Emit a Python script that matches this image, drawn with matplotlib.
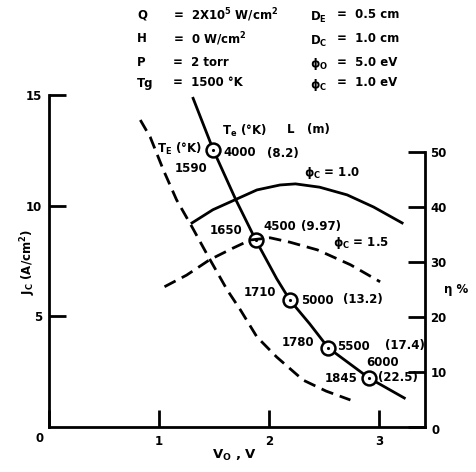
import matplotlib
matplotlib.use("Agg")
import matplotlib.pyplot as plt

plt.rcParams['font.family'] = ['DejaVu Sans']
plt.rcParams['font.weight'] = 'bold'
plt.rcParams['mathtext.default'] = 'bf'

# ---- data ----
# Te curve (solid): J_C vs V_O
v_te = [1.31, 1.495, 1.70, 1.88, 2.07, 2.19, 2.37, 2.54, 2.91, 3.23]
j_te = [14.85, 12.5, 10.25, 8.44, 6.70, 5.73, 4.66, 3.57, 2.21, 1.31]
# marked points (Te = 4000..6000 K)
v_mark = [1.495, 1.88, 2.19, 2.54, 2.91]
j_mark = [12.5, 8.44, 5.73, 3.57, 2.21]
te_labels = ["4000", "4500", "5000", "5500", "6000"]
l_labels = ["(8.2)", "(9.97)", "(13.2)", "(17.4)", "(22.5)"]
tE_labels = ["1590", "1650", "1710", "1780", "1845"]
# TE curve (dashed): J_C vs V_O
v_tE = [0.83, 0.92, 1.04, 1.16, 1.30, 1.45, 1.62, 1.74, 1.89, 2.07, 2.31, 2.52, 2.74]
j_tE = [13.87, 13.10, 11.61, 10.26, 9.04, 7.68, 6.19, 5.29, 4.07, 3.16, 2.12, 1.62, 1.22]
# efficiency curves, eta %
v_eta1 = [1.30, 1.49, 1.69, 1.89, 2.10, 2.24, 2.46, 2.71, 2.95, 3.21]
eta1 = [37.1, 39.5, 41.3, 43.1, 44.0, 44.2, 43.6, 42.2, 40.0, 37.1]
v_eta15 = [1.05, 1.25, 1.46, 1.67, 1.83, 2.01, 2.19, 2.44, 2.74, 3.01]
eta15 = [25.5, 27.6, 30.4, 32.5, 34.0, 34.4, 33.6, 32.2, 29.5, 26.4]

W, H = 477, 472
fig = plt.figure(figsize=(W / 100, H / 100), dpi=100)
fig.patch.set_facecolor('white')

ax = fig.add_axes([49 / W, (H - 427) / H, (425 - 49) / W, (427 - 95) / H])
ax.set_xlim(0, 3.418)
ax.set_ylim(0, 15)
ax2 = ax.twinx()
ax2.set_ylim(0, 60.36)

for a in (ax, ax2):
    for s in a.spines.values():
        s.set_linewidth(2)
    a.spines['top'].set_visible(False)
ax.spines['right'].set_visible(False)
ax2.spines['left'].set_visible(False)
ax2.spines['bottom'].set_visible(False)
ax2.spines['right'].set_bounds(0, 50)

fs = 8.5
ax.set_xticks([0, 1, 2, 3])
ax.set_xticklabels(["", "1", "2", "3"])
ax.set_yticks([5, 10, 15])
ax.tick_params(axis='both', direction='in', length=12, width=2, labelsize=fs, pad=6)
ax.tick_params(axis='y', pad=5)
ax2.set_yticks([0, 10, 20, 30, 40, 50])
ax2.set_yticklabels(["", "10", "20", "30", "40", "50"])
ax2.tick_params(axis='y', direction='in', length=12, width=2, labelsize=fs, pad=4)
for lab in ax.get_xticklabels() + ax.get_yticklabels() + ax2.get_yticklabels():
    lab.set_fontweight('bold')

dash = (0, (4.5, 2.5))
ax.plot(v_te, j_te, color='black', lw=2)
ax.plot(v_tE, j_tE, color='black', lw=2, linestyle=dash)
ax2.plot(v_eta1, eta1, color='black', lw=2)
ax2.plot(v_eta15, eta15, color='black', lw=2, linestyle=dash)
ax.plot(v_mark, j_mark, 'o', ms=10, mfc='white', mec='black', mew=1.8, zorder=5)
ax.plot(v_mark, j_mark, '.', ms=2.5, color='black', zorder=6)


def T(x, y, s, ha='left', **kw):
    fig.text(x / W, 1 - y / H, s, ha=ha, va='center', fontsize=kw.pop('fontsize', fs),
             fontweight='bold', **kw)


# zero labels
T(40, 439, "0", ha='center')
T(436, 431, "0", ha='center')

# header
hx1, hx2, rx1, rx2 = 137, 173, 310, 337
rows = [15, 39, 62, 83]
T(hx1, rows[0], "Q"); T(hx2, rows[0], "=  2X10$^{5}$ W/cm$^{2}$")
T(hx1, rows[1], "H"); T(hx2, rows[1], "=  0 W/cm$^{2}$")
T(hx1, rows[2], "P"); T(hx2, rows[2], "=  2 torr")
T(hx1, rows[3], "Tg"); T(hx2, rows[3], "=  1500 °K")
T(rx1, rows[0] + 2, "D$_{E}$"); T(rx2, rows[0], "=  0.5 cm")
T(rx1, rows[1] + 2, "D$_{C}$"); T(rx2, rows[1], "=  1.0 cm")
T(rx1, rows[2] + 2, "ϕ$_{O}$"); T(rx2, rows[2], "=  5.0 eV")
T(rx1, rows[3] + 2, "ϕ$_{C}$"); T(rx2, rows[3], "=  1.0 eV")

# annotations
T(222, 131, "T$_{e}$ (°K)")
T(287, 130, "L")
T(307, 130, "(m)")
T(157, 149, "T$_{E}$ (°K)")
T(223, 153, te_labels[0]); T(267, 153, l_labels[0])
T(175, 168, tE_labels[0])
T(304, 173, "ϕ$_{C}$ = 1.0")
T(210, 231, tE_labels[1])
T(263, 227, te_labels[1]); T(301, 227, l_labels[1])
T(333, 243, "ϕ$_{C}$ = 1.5")
T(244, 293, tE_labels[2])
T(301, 300, te_labels[2]); T(343, 300, l_labels[2])
T(282, 343, tE_labels[3])
T(337, 346, te_labels[3]); T(385, 346, l_labels[3])
T(366, 362, te_labels[4])
T(378, 377, l_labels[4])
T(325, 379, tE_labels[4])

# axis labels
T(28, 262, "J$_{C}$ (A/cm$^{2}$)", ha='center', rotation=90)
T(235, 455, "V$_{O}$ , V", ha='center', fontsize=9.5)
T(456, 290, "η %", ha='center')

fig.savefig("out.png", dpi=100, facecolor='white')
